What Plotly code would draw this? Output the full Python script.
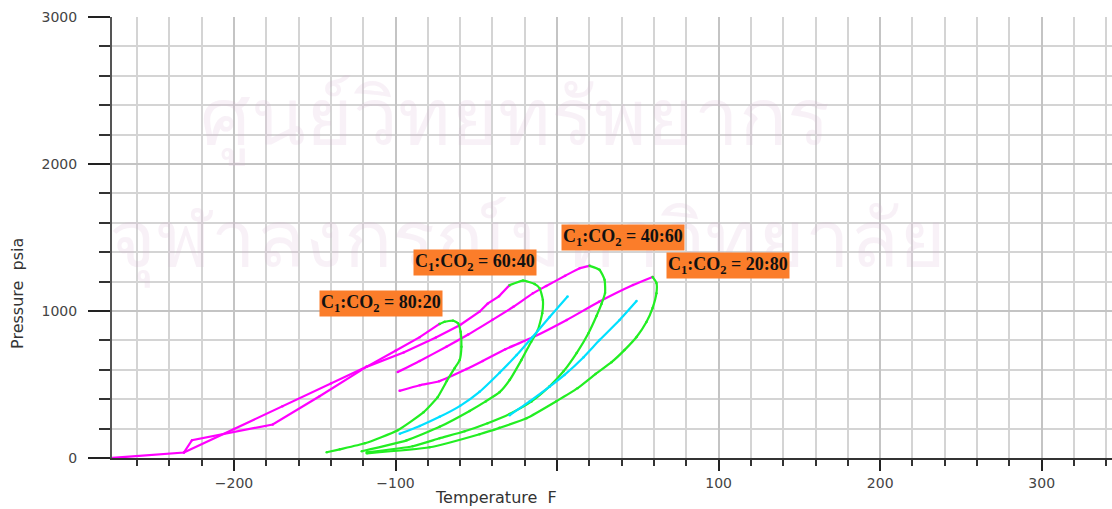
import plotly.graph_objects as go

# Phase envelopes of C1/CO2 mixtures: bubble-point (magenta), dew-point (green)
# and inner quality lines (cyan). Temperature in F, pressure in psia.

bub_8020_t = [-276, -231, -226, -176, -147, -118, -100, -85, -73]
bub_8020_p = [0, 37, 121, 228, 420, 620, 730, 822, 911]
dew_8020_t = [-72.7, -69.6, -64.4, -61.3, -59.7, -59.2, -60.3, -63.4, -68.3, -73.9, -82.6, -98.6, -119, -134.5, -142.6]
dew_8020_p = [911, 927, 934, 916, 859, 757, 666, 611, 523, 414, 312, 189, 100, 59, 39]

bub_6040_t = [-231, -200, -170, -140, -118, -95, -75, -60, -48, -43, -36, -29.4]
bub_6040_p = [37, 197, 352, 507, 620, 718, 820, 905, 995, 1050, 1100, 1176]
dew_6040_t = [-29.4, -21.1, -13.9, -10.8, -8.8, -9.2, -11.9, -16, -22.1, -29.4, -35.6, -44.2, -54.1, -72.7, -93.1, -120.9]
dew_6040_p = [1176, 1207, 1184, 1155, 1075, 984, 870, 791, 666, 530, 448, 385, 320, 212, 120, 46]

bub_4060_t = [-98.6, -85, -68.5, -55, -40, -27, -15, -6.7, 5, 14, 20.1]
bub_4060_p = [585, 660, 757, 840, 940, 1029, 1120, 1170, 1240, 1291, 1307]
dew_4060_t = [20.1, 26.3, 29.4, 29.7, 27.5, 24.4, 19.5, 12.1, 4.0, -4.6, -15.8, -29.4, -43, -57.2, -72.7, -89.4, -117.8]
dew_4060_p = [1307, 1280, 1212, 1123, 1048, 966, 851, 714, 590, 488, 385, 300, 237, 182, 134, 80, 39]

bub_2080_t = [-97.5, -85, -73, -56, -46, -32, -15, 6, 26, 47, 59.1]
bub_2080_p = [457, 495, 522, 605, 660, 740, 821, 939, 1063, 1177, 1232]
dew_2080_t = [59.1, 61.5, 61.5, 59.1, 55.3, 49.2, 41.7, 33.7, 23.8, 12.7, -0.3, -18.9, -35.6, -48, -78.9, -117.8]
dew_2080_p = [1232, 1191, 1121, 1020, 925, 823, 734, 652, 571, 475, 387, 270, 205, 162, 73, 32]

qual_a_t = [-97.4, -85, -72.7, -60, -48, -35.6, -25, -15.2, -4.6, 6.5]
qual_a_p = [165, 218, 280, 355, 450, 580, 700, 823, 959, 1099]
qual_b_t = [-29.4, -17, -4.6, 4.6, 16.4, 26.3, 38.7, 49.2]
qual_b_p = [291, 385, 485, 565, 686, 802, 939, 1068]

labels = ["<b>C<sub>1</sub>:CO<sub>2</sub> = 80:20</b>", "<b>C<sub>1</sub>:CO<sub>2</sub> = 60:40</b>",
          "<b>C<sub>1</sub>:CO<sub>2</sub> = 40:60</b>", "<b>C<sub>1</sub>:CO<sub>2</sub> = 20:80</b>"]
label_t = [-109.2, -51, 41.1, 105.6]
label_p = [1048, 1327, 1498, 1307]

MAGENTA = "#ff00ff"
GREEN = "#22ee22"
CYAN = "#00e0ff"

fig = go.Figure()

def curve(t, p, color, shape="spline"):
    line = dict(color=color, width=2.2, shape=shape)
    if shape == "spline":
        line["smoothing"] = 0.5
    fig.add_trace(go.Scatter(
        x=t, y=p, mode="lines+markers", line=line,
        marker=dict(color=color, size=2.5),
        hoverinfo="skip", showlegend=False))

curve(bub_8020_t, bub_8020_p, MAGENTA, "linear")
curve(bub_6040_t, bub_6040_p, MAGENTA, "linear")
curve(bub_4060_t, bub_4060_p, MAGENTA)
curve(bub_2080_t, bub_2080_p, MAGENTA)
for t, p in [(dew_8020_t, dew_8020_p), (dew_6040_t, dew_6040_p),
             (dew_4060_t, dew_4060_p), (dew_2080_t, dew_2080_p)]:
    curve(t, p, GREEN)
for t, p in [(qual_a_t, qual_a_p), (qual_b_t, qual_b_p)]:
    curve(t, p, CYAN)

# faint watermark
WM = "rgba(215,170,205,0.17)"
fig.add_annotation(text="ศูนย์วิทยทรัพยากร", xref="paper", yref="paper",
                   x=0.403, y=0.91, showarrow=False,
                   font=dict(family="Noto Sans", size=80, color=WM))
fig.add_annotation(text="จุฬาลงกรณ์มหาวิทยาลัย", xref="paper", yref="paper",
                   x=0.415, y=0.505, showarrow=False,
                   font=dict(family="Noto Sans", size=80, color=WM))

for txt, t, p in zip(labels, label_t, label_p):
    fig.add_annotation(text=txt, x=t, y=p, xref="x", yref="y", showarrow=False,
                       bgcolor="#fb7d2a", borderpad=1,
                       font=dict(family="Liberation Serif", size=18, color="#111"))

tick_font = dict(family="DejaVu Sans", size=14, color="#444")

fig.update_xaxes(
    range=[-275.5, 343.5], tick0=0, dtick=100, labelalias={"0": " "},
    ticks="outside", ticklen=11, tickwidth=2, tickcolor="#222",
    showline=True, linecolor="#333", linewidth=2,
    showgrid=True, gridcolor="#c4c4c4", gridwidth=2, zeroline=False,
    minor=dict(tick0=0, dtick=20, ticks="outside", ticklen=6, tickwidth=1.5,
               tickcolor="#333", showgrid=True, gridcolor="#d4d4d4", gridwidth=1.5),
    tickfont=tick_font)
fig.update_yaxes(
    range=[0, 3000], tick0=0, dtick=1000,
    ticks="outside", ticklen=22, tickwidth=2, tickcolor="#222",
    showline=True, linecolor="#555", linewidth=2,
    showgrid=True, gridcolor="#c4c4c4", gridwidth=2, zeroline=False,
    minor=dict(tick0=0, dtick=200, ticks="outside", ticklen=11, tickwidth=1.5,
               tickcolor="#333", showgrid=True, gridcolor="#d4d4d4", gridwidth=1.5),
    tickfont=tick_font, ticklabelstandoff=8)

fig.add_annotation(text="Pressure  psia", xref="paper", yref="paper",
                   x=-0.094, y=0.372, textangle=-90, showarrow=False,
                   xanchor="center", yanchor="middle",
                   font=dict(family="DejaVu Sans", size=16, color="#333"))
fig.add_annotation(text="Temperature  F", xref="paper", yref="paper",
                   x=0.384, y=-0.089, showarrow=False,
                   xanchor="center", yanchor="middle",
                   font=dict(family="DejaVu Sans", size=16, color="#333"))

fig.update_layout(width=1112, height=509, margin=dict(l=112, r=0, t=17, b=51),
                  plot_bgcolor="white", paper_bgcolor="white", showlegend=False)

fig.write_html("out.html")
